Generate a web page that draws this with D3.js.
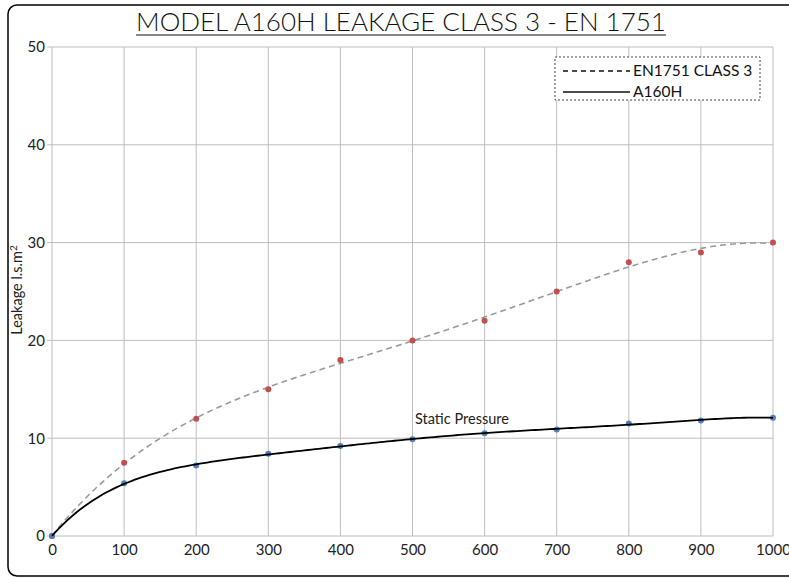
<!DOCTYPE html>
<html><head><meta charset="utf-8">
<script src="https://cdn.jsdelivr.net/npm/d3@7"></script>
<style>body{margin:0;background:#fff;} svg{display:block;}</style>
</head><body>
<script>
const pressures = [0,100,200,300,400,500,600,700,800,900,1000];
const en1751 = [0,7.5,12,15,18,20,22,25,28,29,30];
const a160h = [0,5.4,7.2,8.4,9.2,9.9,10.5,10.9,11.5,11.8,12.1];
const xTicks = [0,100,200,300,400,500,600,700,800,900,1000];
const yTicks = [0,10,20,30,40,50];
const title = "MODEL A160H LEAKAGE CLASS 3 - EN 1751";
const legendLabels = ["EN1751 CLASS 3","A160H"];

const W=789,H=578;
const FONT="Lato, 'DejaVu Sans', sans-serif";
const svg=d3.select("body").append("svg").attr("width",W).attr("height",H);

svg.append("rect").attr("x",8).attr("y",5).attr("width",820).attr("height",571)
  .attr("rx",9).attr("fill","none").attr("stroke","#000").attr("stroke-width",1.5);

const m={l:52,r:773,t:47,b:536};
const x=d3.scaleLinear().domain([0,1000]).range([m.l,m.r]);
const y=d3.scaleLinear().domain([0,50]).range([m.b,m.t]);

// grid
const g=svg.append("g");
g.selectAll(".vg").data(xTicks).join("line")
  .attr("x1",d=>x(d)).attr("x2",d=>x(d)).attr("y1",m.t).attr("y2",m.b)
  .attr("stroke","#bdbdbd").attr("stroke-width",1);
g.selectAll(".hg").data(yTicks).join("line")
  .attr("x1",m.l-5).attr("x2",m.r).attr("y1",d=>y(d)).attr("y2",d=>y(d))
  .attr("stroke","#bdbdbd").attr("stroke-width",1);

// axes labels
const yAxis=d3.axisLeft(y).tickValues(yTicks).tickSize(0).tickPadding(7).tickFormat(d3.format("d"));
const ya=svg.append("g").attr("transform",`translate(${m.l},0)`).call(yAxis);
ya.select(".domain").remove();
ya.selectAll("text").attr("font-family",FONT).attr("font-size",15).attr("fill","#222");
const xAxis=d3.axisBottom(x).tickValues(xTicks).tickSize(0).tickPadding(8).tickFormat(d3.format("d"));
const xa=svg.append("g").attr("transform",`translate(0,${m.b})`).call(xAxis);
xa.select(".domain").remove();
xa.selectAll("text").attr("font-family",FONT).attr("font-size",15).attr("fill","#222");

// polynomial trendlines (least squares) computed from the data
function polyfit(xs,ys,deg){
  const n=deg+1;const A=[];for(let i=0;i<n;i++){A.push(new Array(n+1).fill(0));}
  xs.forEach((xv,k)=>{for(let i=0;i<n;i++){for(let j=0;j<n;j++)A[i][j]+=Math.pow(xv,i+j);A[i][n]+=ys[k]*Math.pow(xv,i);}});
  for(let c=0;c<n;c++){let p=c;for(let r=c+1;r<n;r++)if(Math.abs(A[r][c])>Math.abs(A[p][c]))p=r;[A[c],A[p]]=[A[p],A[c]];
    for(let r=0;r<n;r++){if(r===c)continue;const f=A[r][c]/A[c][c];for(let k=c;k<=n;k++)A[r][k]-=f*A[c][k];}}
  return A.map((row,i)=>row[n]/row[i]);
}
function trendPoints(vals,deg){
  const coef=polyfit(pressures.map(p=>p/1000),vals,deg);
  return d3.range(0,1000.001,5).map(p=>[p,coef.reduce((s,c,i)=>s+c*Math.pow(p/1000,i),0)]);
}
const line=d3.line().x(d=>x(d[0])).y(d=>y(d[1]));

svg.append("path").attr("d",line(trendPoints(en1751,4)))
  .attr("fill","none").attr("stroke","#9a9a9a").attr("stroke-width",1.6).attr("stroke-dasharray","6,4");

svg.selectAll(".rd").data(pressures).join("circle")
  .attr("cx",d=>x(d)).attr("cy",(d,i)=>y(en1751[i])).attr("r",3).attr("fill","#c0504d");
svg.selectAll(".bd").data(pressures).join("circle")
  .attr("cx",d=>x(d)).attr("cy",(d,i)=>y(a160h[i])).attr("r",3).attr("fill","#4f81bd");

svg.append("path").attr("d",line(trendPoints(a160h,6)))
  .attr("fill","none").attr("stroke","#000").attr("stroke-width",1.8);

// title
const t=svg.append("text").attr("x",401).attr("y",31).attr("text-anchor","middle")
  .attr("font-family",FONT).attr("font-size",26).attr("font-weight",300).attr("fill","#111").text(title);
const bb=t.node().getBBox();
svg.append("line").attr("x1",bb.x).attr("x2",bb.x+bb.width).attr("y1",35).attr("y2",35).attr("stroke","#111").attr("stroke-width",1.2);

// y label
svg.append("text").attr("transform","translate(22,290) rotate(-90)").attr("text-anchor","middle")
  .attr("font-family",FONT).attr("font-size",14.5).attr("fill","#222")
  .text("Leakage l.s.m").append("tspan").attr("font-size",10).attr("dy",-5).text("2");

svg.append("text").attr("x",415).attr("y",424).attr("font-family",FONT).attr("font-size",14.5).attr("fill","#222").text("Static Pressure");

// legend
svg.append("rect").attr("x",555).attr("y",57).attr("width",205).attr("height",43)
  .attr("fill","#fff").attr("stroke","#444").attr("stroke-width",1).attr("stroke-dasharray","2,2");
const lg=svg.append("g");
[0,1].forEach(i=>{
  const yy=71+i*21;
  lg.append("line").attr("x1",563).attr("x2",630).attr("y1",yy).attr("y2",yy)
    .attr("stroke","#111").attr("stroke-width",1.3).attr("stroke-dasharray",i===0?"5,4":null);
  lg.append("text").attr("x",633).attr("y",yy+5).attr("font-family",FONT).attr("font-size",15.5).attr("fill","#111").text(legendLabels[i]);
});
</script>
</body></html>
